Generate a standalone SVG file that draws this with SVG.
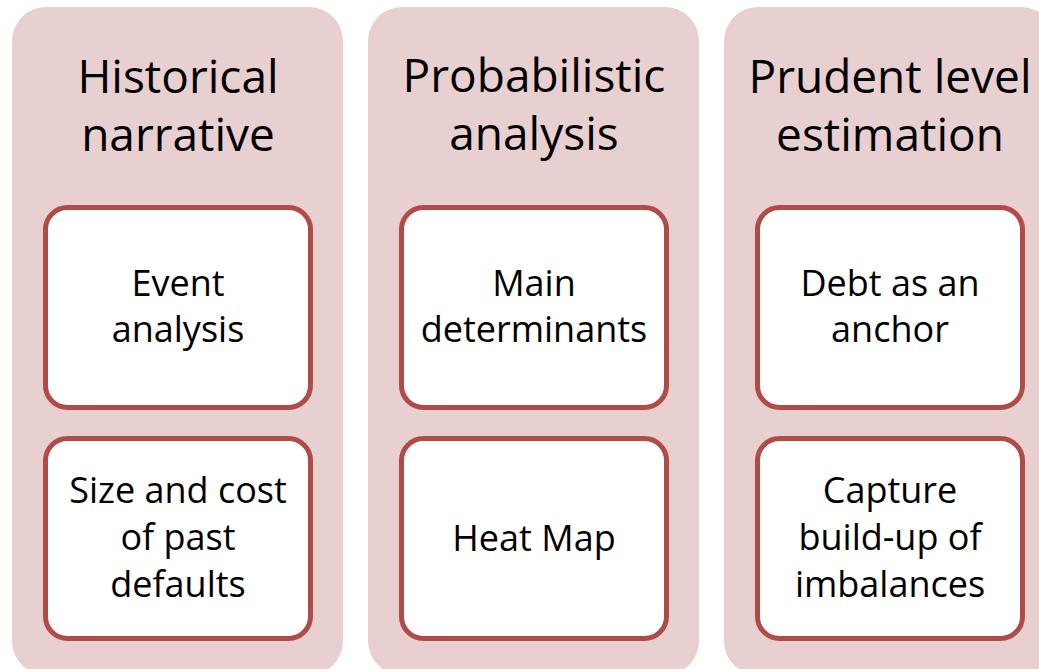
<svg xmlns="http://www.w3.org/2000/svg" width="1039" height="669" viewBox="0 0 1039 669">
<style>
.col{fill:#e8cfd0}
.box{fill:#ffffff;stroke:#b04b48;stroke-width:5}
.t{font-family:"Open Sans","Liberation Sans",sans-serif;fill:#000;text-anchor:middle}
.h{font-size:46px}
.b{font-size:36px}
</style>
<rect width="1039" height="669" fill="#ffffff"/>
<g id="col1">
<rect class="col" x="12" y="7" width="331" height="668" rx="34"/>
<text class="t h" x="178" y="93">Historical</text>
<text class="t h" x="178" y="151">narrative</text>
</g>
<g id="col1-box1">
<rect class="box" x="45.5" y="207.5" width="265" height="200" rx="22"/>
<text class="t b" x="178" y="296">Event</text>
<text class="t b" x="178" y="342">analysis</text>
</g>
<g id="col1-box2">
<rect class="box" x="45.5" y="438.5" width="265" height="200" rx="22"/>
<text class="t b" x="178" y="503">Size and cost</text>
<text class="t b" x="178" y="550">of past</text>
<text class="t b" x="178" y="597">defaults</text>
</g>
<g id="col2">
<rect class="col" x="368" y="7" width="331" height="668" rx="34"/>
<text class="t h" x="534" y="92">Probabilistic</text>
<text class="t h" x="534" y="150">analysis</text>
</g>
<g id="col2-box1">
<rect class="box" x="401.5" y="207.5" width="265" height="200" rx="22"/>
<text class="t b" x="534" y="296">Main</text>
<text class="t b" x="534" y="342">determinants</text>
</g>
<g id="col2-box2">
<rect class="box" x="401.5" y="438.5" width="265" height="200" rx="22"/>
<text class="t b" x="534" y="551">Heat Map</text>
</g>
<g id="col3">
<rect class="col" x="724" y="7" width="331" height="668" rx="34"/>
<text class="t h" x="890" y="93">Prudent level</text>
<text class="t h" x="890" y="151">estimation</text>
</g>
<g id="col3-box1">
<rect class="box" x="757.5" y="207.5" width="265" height="200" rx="22"/>
<text class="t b" x="890" y="296">Debt as an</text>
<text class="t b" x="890" y="342">anchor</text>
</g>
<g id="col3-box2">
<rect class="box" x="757.5" y="438.5" width="265" height="200" rx="22"/>
<text class="t b" x="890" y="503">Capture</text>
<text class="t b" x="890" y="550">build-up of</text>
<text class="t b" x="890" y="597">imbalances</text>
</g>
<g id="connectors"></g>
</svg>
